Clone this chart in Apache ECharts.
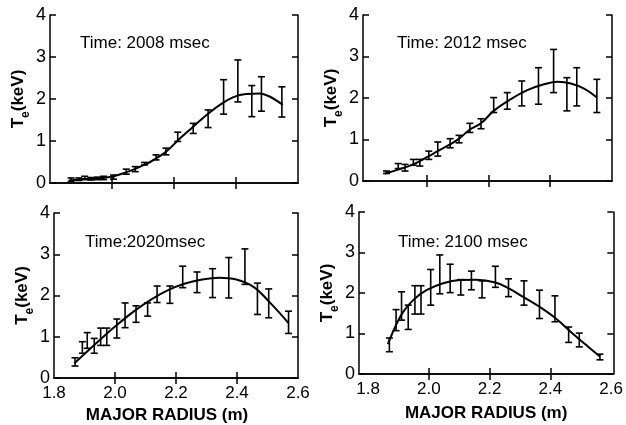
<!DOCTYPE html>
<html>
<head>
<meta charset="utf-8">
<script src="https://cdn.jsdelivr.net/npm/echarts@6/dist/echarts.min.js"></script>
<style>html,body{margin:0;padding:0;background:#fff;}#c{width:626px;height:425px;}</style>
</head>
<body>
<div id="c"></div>
<script>
// ---- Data ----
const panelTitles = ["Time: 2008 msec", "Time: 2012 msec", "Time:2020msec", "Time: 2100 msec"];
const xTickLabels = [1.8, 2.0, 2.2, 2.4, 2.6];
const yTickLabels = [0, 1, 2, 3, 4];
const xAxisName = "MAJOR RADIUS (m)";

// 2008 msec
const r2008   = [1.868,1.893,1.912,1.932,1.953,1.973,2.005,2.046,2.075,2.105,2.142,2.174,2.212,2.262,2.310,2.360,2.406,2.451,2.482,2.548];
const te2008  = [0.08,0.09,0.12,0.10,0.11,0.12,0.14,0.27,0.33,0.46,0.61,0.75,1.10,1.30,1.53,2.05,2.43,1.95,2.12,1.93];
const err2008 = [0.04,0.03,0.04,0.03,0.03,0.04,0.05,0.06,0.06,0.03,0.06,0.08,0.11,0.12,0.21,0.41,0.50,0.37,0.41,0.36];
const fitR2008  = [1.861,1.92,1.97,2.005,2.04,2.069,2.10,2.123,2.15,2.177,2.219,2.262,2.305,2.348,2.390,2.433,2.476,2.508,2.551];
const fitTe2008 = [0.06,0.10,0.12,0.16,0.24,0.32,0.42,0.50,0.62,0.76,1.06,1.34,1.62,1.86,2.04,2.12,2.13,2.06,1.86];

// 2012 msec
const r2012   = [1.870,1.908,1.930,1.957,1.978,2.007,2.036,2.076,2.105,2.140,2.176,2.217,2.261,2.308,2.362,2.411,2.454,2.486,2.551];
const te2012  = [0.21,0.36,0.32,0.45,0.44,0.62,0.77,0.91,1.01,1.28,1.38,1.83,1.93,2.11,2.29,2.65,2.09,2.27,2.05];
const err2012 = [0.03,0.06,0.08,0.07,0.08,0.10,0.17,0.11,0.09,0.11,0.12,0.18,0.20,0.30,0.44,0.52,0.40,0.46,0.40];
const fitR2012  = [1.865,1.91,1.957,2.007,2.036,2.076,2.105,2.14,2.176,2.217,2.272,2.326,2.38,2.424,2.467,2.511,2.551];
const fitTe2012 = [0.18,0.28,0.40,0.60,0.72,0.88,1.02,1.24,1.39,1.69,1.97,2.19,2.33,2.39,2.35,2.22,2.01];

// 2020 msec
const r2020   = [1.869,1.893,1.909,1.932,1.953,1.973,2.006,2.033,2.069,2.107,2.138,2.180,2.222,2.269,2.320,2.373,2.426,2.467,2.504,2.569];
const te2020  = [0.39,0.74,0.91,0.78,1.00,1.00,1.20,1.52,1.55,1.66,2.03,2.02,2.45,2.32,2.30,2.43,2.70,1.92,1.81,1.35];
const err2020 = [0.10,0.14,0.19,0.18,0.21,0.21,0.23,0.30,0.20,0.16,0.20,0.21,0.26,0.25,0.35,0.49,0.43,0.38,0.35,0.27];
const fitR2020  = [1.867,1.951,2.007,2.063,2.118,2.174,2.230,2.286,2.342,2.398,2.454,2.509,2.569];
const fitTe2020 = [0.36,0.93,1.29,1.62,1.90,2.13,2.29,2.39,2.43,2.39,2.21,1.82,1.33];

// 2100 msec
const r2100   = [1.870,1.892,1.910,1.932,1.954,1.974,2.006,2.036,2.070,2.105,2.140,2.175,2.219,2.262,2.313,2.364,2.415,2.460,2.495,2.563];
const te2100  = [0.72,1.33,1.68,1.40,1.83,1.83,2.14,2.46,2.36,2.14,2.31,2.09,2.40,2.13,2.00,1.72,1.61,0.97,0.84,0.42];
const err2100 = [0.17,0.26,0.35,0.30,0.35,0.35,0.44,0.48,0.35,0.19,0.23,0.21,0.26,0.22,0.30,0.35,0.32,0.19,0.17,0.07];
const fitR2100  = [1.865,1.892,1.916,1.949,1.992,2.047,2.102,2.156,2.219,2.266,2.309,2.364,2.418,2.473,2.517,2.563];
const fitTe2100 = [0.74,1.21,1.54,1.83,2.07,2.24,2.32,2.33,2.26,2.10,1.91,1.66,1.37,1.00,0.72,0.43];

// ---- Layout ----
const panels = [
  {r:r2008, te:te2008, err:err2008, fr:fitR2008, ft:fitTe2008, grid:{left:50, top:15, width:248, height:168}, xmin:1.8, xmax:2.6, bottom:false, title:{left:80, top:35}},
  {r:r2012, te:te2012, err:err2012, fr:fitR2012, ft:fitTe2012, grid:{left:363, top:15, width:249, height:166}, xmin:1.794, xmax:2.6, bottom:false, title:{left:397, top:35}},
  {r:r2020, te:te2020, err:err2020, fr:fitR2020, ft:fitTe2020, grid:{left:54, top:213, width:244, height:165}, xmin:1.8, xmax:2.6, bottom:true, title:{left:85, top:234}},
  {r:r2100, te:te2100, err:err2100, fr:fitR2100, ft:fitTe2100, grid:{left:359, top:212, width:255, height:162}, xmin:1.77, xmax:2.607, bottom:true, title:{left:398, top:234}}
];

const FONT = "'Liberation Sans', Arial, Helvetica, sans-serif";
const innerTicks = [2.0, 2.2, 2.4];

const option = {
  backgroundColor: '#fff',
  animation: false,
  title: [], grid: [], xAxis: [], yAxis: [], series: []
};

panels.forEach((p, i) => {
  option.grid.push(Object.assign({containLabel:false, show:false}, p.grid));
  option.title.push({
    text: panelTitles[i], left: p.title.left, top: p.title.top, padding: 0,
    textStyle: {fontFamily: FONT, fontSize: 17, fontWeight: 'normal', color: '#000'}
  });
  const axisLine = {show:true, lineStyle:{color:'#000', width:1.5}};
  // bottom x axis
  option.xAxis.push({
    type:'value', gridIndex:i, position:'bottom', min:p.xmin, max:p.xmax,
    axisLine: axisLine,
    axisTick:{show:true, inside:true, length:6, customValues: innerTicks, lineStyle:{color:'#000', width:1.5}},
    axisLabel:{show:p.bottom, customValues: xTickLabels, formatter: v => v.toFixed(1), margin:7,
      fontFamily:FONT, fontSize:17, color:'#000'},
    splitLine:{show:false},
    name: p.bottom ? xAxisName : '', nameLocation:'middle', nameGap: i===2 ? 29 : 31,
    nameTextStyle:{fontFamily:FONT, fontSize:17, fontWeight:'bold', color:'#000', padding: i===2 ? [0,18,0,0] : 0}
  });
  // top x axis (ticks only)
  option.xAxis.push({
    type:'value', gridIndex:i, position:'top', min:p.xmin, max:p.xmax,
    axisLine: axisLine,
    axisTick:{show:true, inside:true, length:6, customValues: innerTicks, lineStyle:{color:'#000', width:1.5}},
    axisLabel:{show:false}, splitLine:{show:false}
  });
  // left y axis
  option.yAxis.push({
    type:'value', gridIndex:i, position:'left', min:0, max:4, interval:1,
    axisLine: axisLine,
    axisTick:{show:true, inside:true, length:6, lineStyle:{color:'#000', width:1.5}},
    axisLabel:{show:true, margin:4, fontFamily:FONT, fontSize:18, color:'#000',
      formatter: v => yTickLabels.includes(v) ? String(v) : ''},
    splitLine:{show:false},
    name: '{t|T}{s|e}{t|(keV)}', nameLocation:'middle', nameRotate:90, nameGap:16,
    nameTextStyle:{fontFamily:FONT, color:'#000',
      rich:{t:{fontFamily:FONT, fontSize:17, fontWeight:'bold', color:'#000', lineHeight:28},
            s:{fontFamily:FONT, fontSize:12, fontWeight:'bold', color:'#000', lineHeight:28, verticalAlign:'bottom'}}}
  });
  // right y axis (ticks only)
  option.yAxis.push({
    type:'value', gridIndex:i, position:'right', min:0, max:4, interval:1,
    axisLine: axisLine,
    axisTick:{show:true, inside:true, length:6, lineStyle:{color:'#000', width:1.5}},
    axisLabel:{show:false}, splitLine:{show:false}
  });

  const fit = p.fr.map((x, k) => [x, p.ft[k]]);
  option.series.push({
    type:'line', xAxisIndex:2*i, yAxisIndex:2*i, data: fit, smooth:0.4,
    showSymbol:false, symbol:'none', lineStyle:{color:'#000', width:2}, z:3
  });
  const bars = p.r.map((x, k) => [x, p.te[k], p.err[k]]);
  option.series.push({
    type:'custom', xAxisIndex:2*i, yAxisIndex:2*i, data: bars,
    encode:{x:0, y:1}, z:4,
    renderItem: function(params, api){
      const x = api.value(0), y = api.value(1), e = api.value(2);
      const top = api.coord([x, y + e]);
      const bot = api.coord([x, y - e]);
      const hw = 3.5;
      const st = {stroke:'#000', lineWidth:1.6};
      return {type:'group', children:[
        {type:'line', shape:{x1:top[0], y1:top[1], x2:bot[0], y2:bot[1]}, style:st},
        {type:'line', shape:{x1:top[0]-hw, y1:top[1], x2:top[0]+hw, y2:top[1]}, style:st},
        {type:'line', shape:{x1:bot[0]-hw, y1:bot[1], x2:bot[0]+hw, y2:bot[1]}, style:st}
      ]};
    }
  });
});

const chart = echarts.init(document.getElementById('c'), null, {renderer:'canvas', width:626, height:425});
chart.setOption(option);
</script>
</body>
</html>
